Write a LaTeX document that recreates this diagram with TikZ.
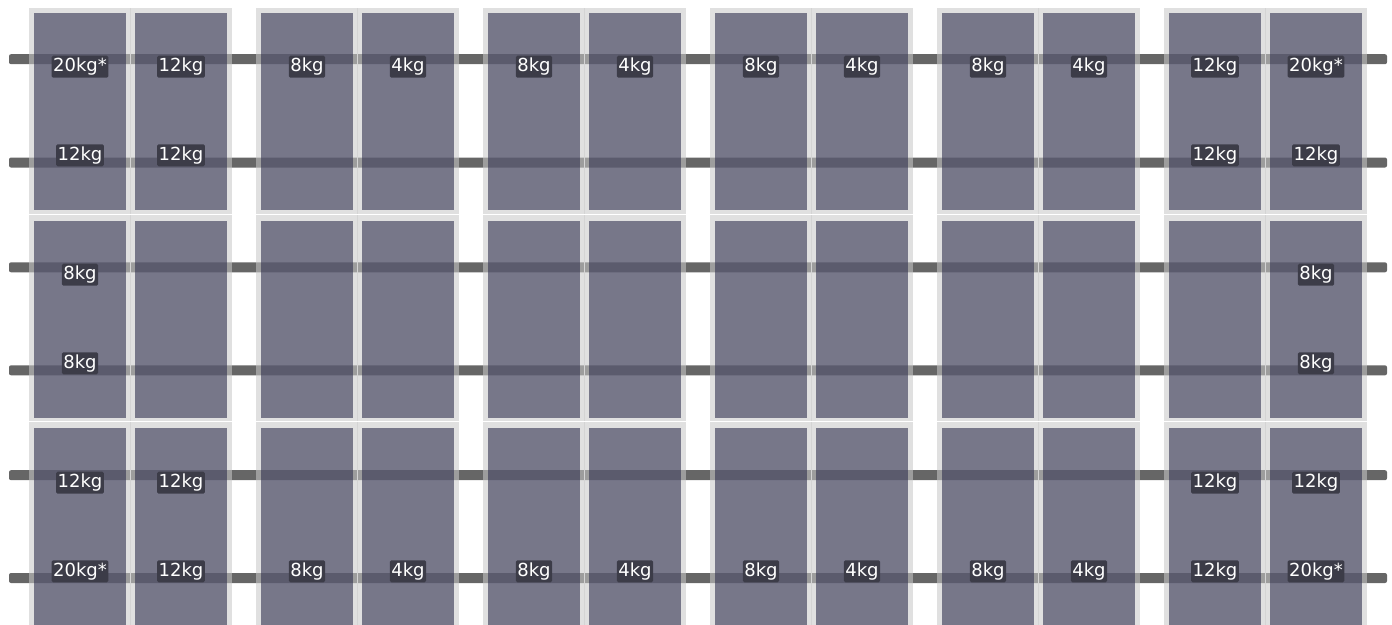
\documentclass[tikz,border=0pt]{standalone}
\usepackage{fontspec}
\setmainfont{DejaVu Sans}
\definecolor{railc}{RGB}{102,102,102}
\definecolor{framec}{RGB}{200,200,200}
\definecolor{panelc}{RGB}{46,46,77}
\definecolor{lblc}{RGB}{60,60,72}
\definecolor{seamc}{RGB}{212,212,212}
\tikzset{
  railbar/.style={fill=railc, rounded corners=2pt},
  framebox/.style={fill=framec, fill opacity=0.57},
  panelbox/.style={fill=panelc, fill opacity=0.59},
  seam/.style={draw=seamc, line width=0.8pt},
  wlabel/.style={fill=lblc, text=white, rounded corners=1.5pt, inner xsep=1.5pt, inner ysep=0pt,
    minimum height=22pt, font=\fontsize{18}{18}\selectfont}
}
\begin{document}
\begin{tikzpicture}[x=1pt,y=-1pt]
\useasboundingbox (0,0) rectangle (1392,624);
\clip (0,0) rectangle (1392,624);
% rails
\foreach \ry [count=\i] in {59.2,162.5,267.3,370.3,475.2,578} {
  \path[railbar] (9,\ry-5) rectangle (1387,\ry+5);
}
% frames and panels
\foreach \g in {0,...,5} {
  \foreach \r in {0,1,2} {
    \pgfmathsetmacro{\L}{29+227*\g}
    \pgfmathsetmacro{\T}{8+207*\r}
    \pgfmathsetmacro{\P}{13+207.5*\r}
    \path[framebox] (\L,\T) rectangle (\L+203,\T+206);
    \draw[seam] (\L+101.5,\T) -- (\L+101.5,\T+206);
    \path[panelbox] (\L+5,\P) rectangle (\L+97,\P+197);
    \path[panelbox] (\L+106,\P) rectangle (\L+198,\P+197);
  }
}
% labels: x, y, text
\foreach \x/\y/\t/\n in {
  80/66.7/20kg*/a1, 181/66.7/12kg/b1,
  307/66.7/8kg/c1, 408/66.7/4kg/d1,
  534/66.7/8kg/e1, 635/66.7/4kg/f1,
  761/66.7/8kg/g1, 862/66.7/4kg/h1,
  988/66.7/8kg/i1, 1089/66.7/4kg/j1,
  1215/66.7/12kg/k1, 1316/66.7/20kg*/l1,
  80/155.3/12kg/a2, 181/155.3/12kg/b2,
  1215/155.3/12kg/k2, 1316/155.3/12kg/l2,
  80/274.7/8kg/a3, 1316/274.7/8kg/l3,
  80/363.3/8kg/a4, 1316/363.3/8kg/l4,
  80/482.7/12kg/a5, 181/482.7/12kg/b5,
  1215/482.7/12kg/k5, 1316/482.7/12kg/l5,
  80/571.3/20kg*/a6, 181/571.3/12kg/b6,
  307/571.3/8kg/c6, 408/571.3/4kg/d6,
  534/571.3/8kg/e6, 635/571.3/4kg/f6,
  761/571.3/8kg/g6, 862/571.3/4kg/h6,
  988/571.3/8kg/i6, 1089/571.3/4kg/j6,
  1215/571.3/12kg/k6, 1316/571.3/20kg*/l6} {
  \node[wlabel] (lab-\n) at (\x,\y) {\t};
}
\end{tikzpicture}
\end{document}
